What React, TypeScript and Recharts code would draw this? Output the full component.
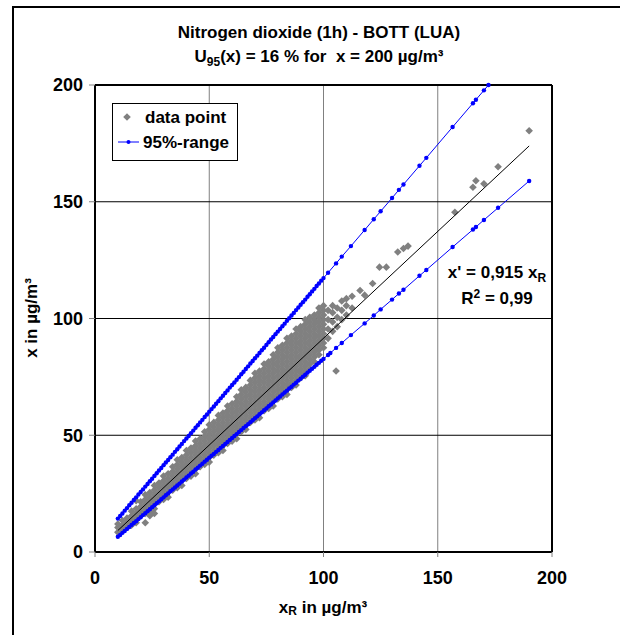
import React from 'react';
import { ScatterChart, Scatter, XAxis, YAxis, CartesianGrid, ReferenceLine, Legend, Label } from 'recharts';

const FONT = '"Liberation Sans", Arial, Helvetica, sans-serif';

const xTicks = [0, 50, 100, 150, 200];
const yTicks = [0, 50, 100, 150, 200];

// dense part of the measurement cloud: x value of each column and the y values read in it
const columnX = [
  10, 12, 14, 16, 18, 20, 22, 24, 26, 28, 30, 32, 34, 36, 38, 40, 42, 44, 46, 48, 50,
  52, 54, 56, 58, 60, 62, 64, 66, 68, 70, 72, 74, 76, 78, 80, 82, 84, 86, 88, 90,
  92, 94, 96, 98, 100, 102, 104, 106, 108, 110, 112.5,
];
const columnY = [
  [8.5, 10.5, 12],
  [9.5, 11.5, 13.5],
  [10.5, 12.5, 14.5],
  [11.5, 13.5, 15.5, 17.5],
  [12.5, 14.5, 16.5, 18.5, 22],
  [15.5, 17.5, 19.5, 21.5],
  [16.5, 18.5, 20.5, 22.5, 24.5, 12.5],
  [17.5, 19.5, 21.5, 23.5, 25.5, 15.5],
  [18.5, 20.5, 22.5, 24.5, 26.5, 28.5, 16.5],
  [21.5, 23.5, 25.5, 27.5, 29.5],
  [22.5, 24.5, 26.5, 28.5, 30.5, 32.5],
  [23.5, 25.5, 27.5, 29.5, 31.5, 33.5],
  [26.5, 28.5, 30.5, 32.5, 34.5, 36.5],
  [27.5, 29.5, 31.5, 33.5, 35.5, 37.5, 39.5],
  [28.5, 30.5, 32.5, 34.5, 36.5, 38.5, 40.5],
  [31.5, 33.5, 35.5, 37.5, 39.5, 41.5, 43.5],
  [32.5, 34.5, 36.5, 38.5, 40.5, 42.5, 44.5],
  [33.5, 35.5, 37.5, 39.5, 41.5, 43.5, 45.5, 47.5],
  [36.5, 38.5, 40.5, 42.5, 44.5, 46.5, 48.5],
  [37.5, 39.5, 41.5, 43.5, 45.5, 47.5, 49.5, 51.5],
  [38.5, 40.5, 42.5, 44.5, 46.5, 48.5, 50.5, 52.5, 54.5],
  [41.5, 43.5, 45.5, 47.5, 49.5, 51.5, 53.5, 55.5],
  [42.5, 44.5, 46.5, 48.5, 50.5, 52.5, 54.5, 56.5, 58.5],
  [43.5, 45.5, 47.5, 49.5, 51.5, 53.5, 55.5, 57.5, 59.5],
  [46.5, 48.5, 50.5, 52.5, 54.5, 56.5, 58.5, 60.5, 62.5],
  [47.5, 49.5, 51.5, 53.5, 55.5, 57.5, 59.5, 61.5, 63.5],
  [48.5, 50.5, 52.5, 54.5, 56.5, 58.5, 60.5, 62.5, 64.5, 66.5],
  [51.5, 53.5, 55.5, 57.5, 59.5, 61.5, 63.5, 65.5, 67.5, 69.5],
  [52.5, 54.5, 56.5, 58.5, 60.5, 62.5, 64.5, 66.5, 68.5, 70.5],
  [55.5, 57.5, 59.5, 61.5, 63.5, 65.5, 67.5, 69.5, 71.5, 73.5],
  [56.5, 58.5, 60.5, 62.5, 64.5, 66.5, 68.5, 70.5, 72.5, 74.5, 76.5],
  [57.5, 59.5, 61.5, 63.5, 65.5, 67.5, 69.5, 71.5, 73.5, 75.5, 77.5],
  [60.5, 62.5, 64.5, 66.5, 68.5, 70.5, 72.5, 74.5, 76.5, 78.5, 80.5],
  [61.5, 63.5, 65.5, 67.5, 69.5, 71.5, 73.5, 75.5, 77.5, 79.5, 81.5],
  [62.5, 64.5, 66.5, 68.5, 70.5, 72.5, 74.5, 76.5, 78.5, 80.5, 82.5, 84.5],
  [65.5, 67.5, 69.5, 71.5, 73.5, 75.5, 77.5, 79.5, 81.5, 83.5, 85.5, 87.5],
  [66.5, 68.5, 70.5, 72.5, 74.5, 76.5, 78.5, 80.5, 82.5, 84.5, 86.5, 88.5],
  [67.5, 69.5, 71.5, 73.5, 75.5, 77.5, 79.5, 81.5, 83.5, 85.5, 87.5, 89.5, 91.5],
  [70.5, 72.5, 74.5, 76.5, 78.5, 80.5, 82.5, 84.5, 86.5, 88.5, 90.5, 92.5],
  [71.5, 73.5, 75.5, 77.5, 79.5, 81.5, 83.5, 85.5, 87.5, 89.5, 91.5, 93.5, 95.5],
  [74.5, 76.5, 78.5, 80.5, 82.5, 84.5, 86.5, 88.5, 90.5, 92.5, 94.5, 96.5],
  [75.5, 77.5, 79.5, 81.5, 83.5, 85.5, 87.5, 89.5, 91.5, 93.5, 95.5, 97.5, 99.5],
  [78.5, 80.5, 82.5, 84.5, 86.5, 88.5, 90.5, 92.5, 94.5, 96.5, 98.5, 100.5],
  [81.5, 83.5, 85.5, 87.5, 89.5, 91.5, 93.5, 95.5, 97.5, 99.5, 101.5],
  [84.5, 86.5, 88.5, 90.5, 92.5, 94.5, 96.5, 98.5, 100.5, 102.5, 104.5],
  [87.5, 89.5, 91.5, 93.5, 95.5, 97.5, 99.5, 101.5, 103.5, 105.5],
  [91.5, 95.5, 99.5, 103.5],
  [94.5, 98.5, 102.5, 105.5],
  [96.5, 100.5, 104.5],
  [99.5, 103.5, 107.5],
  [101.5, 105.5, 108.5],
  [104.5, 109.5],
];

// isolated measurements
const sparseX = [105.5, 116, 118, 121.5, 124.5, 127.5, 132.5, 135, 137, 157.5, 165.4, 166.7, 170.2, 176.4, 190];
const sparseY = [77.5, 112, 110, 115, 122, 122, 128.5, 130, 131, 145.5, 156.2, 159, 157.7, 165, 180.4];

const upperX = [
  10, 11, 12, 13, 14, 15, 16, 17, 18, 19, 20, 21, 22, 23, 24, 25, 26, 27, 28, 29,
  30, 31, 32, 33, 34, 35, 36, 37, 38, 39, 40, 41, 42, 43, 44, 45, 46, 47, 48, 49,
  50, 51, 52, 53, 54, 55, 56, 57, 58, 59, 60, 61, 62, 63, 64, 65, 66, 67, 68, 69,
  70, 71, 72, 73, 74, 75, 76, 77, 78, 79, 80, 81, 82, 83, 84, 85, 86, 87, 88, 89,
  90, 91, 92, 93, 94, 95, 96, 97, 98, 99, 100,
  102, 105.5, 108, 112, 118, 122, 125, 130, 133, 135, 142, 145, 156.5, 165.4, 166.7, 170.2, 172.2,
];
const upperY = [
  14.3, 15.4, 16.5, 17.7, 18.8, 20.0, 21.1, 22.3, 23.4, 24.6, 25.7, 26.8, 28.0, 29.1, 30.3, 31.4, 32.6, 33.7, 34.9, 36.0,
  37.2, 38.3, 39.4, 40.6, 41.7, 42.9, 44.0, 45.2, 46.3, 47.5, 48.6, 49.7, 50.9, 52.0, 53.2, 54.3, 55.5, 56.6, 57.8, 58.9,
  60.1, 61.2, 62.3, 63.5, 64.6, 65.8, 66.9, 68.1, 69.2, 70.4, 71.5, 72.6, 73.8, 74.9, 76.1, 77.2, 78.4, 79.5, 80.7, 81.8,
  83.0, 84.1, 85.2, 86.4, 87.5, 88.7, 89.8, 91.0, 92.1, 93.3, 94.4, 95.5, 96.7, 97.8, 99.0, 100.1, 101.3, 102.4, 103.6, 104.7,
  105.9, 107.0, 108.1, 109.3, 110.4, 111.6, 112.7, 113.9, 115.0, 116.2, 117.3,
  119.6, 123.6, 126.5, 131.0, 137.9, 142.5, 145.9, 151.6, 155.1, 157.4, 165.4, 168.8, 182.0, 192.2, 193.7, 197.7, 200.0,
];

const lowerX = [
  10, 11, 12, 13, 14, 15, 16, 17, 18, 19, 20, 21, 22, 23, 24, 25, 26, 27, 28, 29,
  30, 31, 32, 33, 34, 35, 36, 37, 38, 39, 40, 41, 42, 43, 44, 45, 46, 47, 48, 49,
  50, 51, 52, 53, 54, 55, 56, 57, 58, 59, 60, 61, 62, 63, 64, 65, 66, 67, 68, 69,
  70, 71, 72, 73, 74, 75, 76, 77, 78, 79, 80, 81, 82, 83, 84, 85, 86, 87, 88, 89,
  90, 91, 92, 93, 94, 95, 96, 97, 98, 99, 100,
  102, 103, 105.5, 108, 112, 118, 122, 125, 130, 133, 135, 142, 145, 156.5, 165.4, 166.7, 170.2, 176.4, 190,
];
const lowerY = [
  6.5, 7.3, 8.2, 9.0, 9.9, 10.7, 11.6, 12.4, 13.2, 14.1, 14.9, 15.8, 16.6, 17.5, 18.3, 19.2, 20.0, 20.9, 21.7, 22.6,
  23.4, 24.3, 25.1, 26.0, 26.8, 27.6, 28.5, 29.3, 30.2, 31.0, 31.9, 32.7, 33.6, 34.4, 35.3, 36.1, 37.0, 37.8, 38.7, 39.5,
  40.4, 41.2, 42.0, 42.9, 43.7, 44.6, 45.4, 46.3, 47.1, 48.0, 48.8, 49.7, 50.5, 51.4, 52.2, 53.1, 53.9, 54.7, 55.6, 56.4,
  57.3, 58.1, 59.0, 59.8, 60.7, 61.5, 62.4, 63.2, 64.1, 64.9, 65.8, 66.6, 67.5, 68.3, 69.1, 70.0, 70.8, 71.7, 72.5, 73.4,
  74.2, 75.1, 75.9, 76.8, 77.6, 78.5, 79.3, 80.2, 81.0, 81.9, 82.7,
  84.4, 85.2, 87.4, 89.5, 92.9, 97.9, 101.3, 103.9, 108.1, 110.7, 112.3, 118.3, 120.8, 130.6, 138.1, 139.2, 142.2, 147.4, 158.9,
];

const fitX = [10, 190];
const fitY = [9.2, 173.9];

const toPairs = (xs: number[], ys: number[]) => xs.map((x, i) => ({ x, y: ys[i] }));
const points = [
  ...columnX.flatMap((x, i) => columnY[i].map((y) => ({ x, y }))),
  ...toPairs(sparseX, sparseY),
];
const upper = toPairs(upperX, upperY);
const lower = toPairs(lowerX, lowerY);
const fit = toPairs(fitX, fitY);

const Diamond = (props: any) => {
  const { cx, cy } = props;
  const r = 3.8;
  return <polygon points={`${cx},${cy - r} ${cx + r},${cy} ${cx},${cy + r} ${cx - r},${cy}`} fill="#808080" />;
};
const BlueDot = (props: any) => <circle cx={props.cx} cy={props.cy} r={2.2} fill="#0000FF" />;
const NoDot = () => <g />;

const tickStyle = { fontFamily: FONT, fontWeight: 'bold' as const, fontSize: 18, fill: '#000' };

const renderLegend = () => (
  <svg width={126} height={58} style={{ display: 'block' }}>
    <rect x={0.5} y={0.5} width={125} height={57} fill="#fff" stroke="#000" strokeWidth={1} />
    <polygon points="15,10.2 18.8,14 15,17.8 11.2,14" fill="#808080" />
    <text x={33} y={14} dominantBaseline="central" fontFamily={FONT} fontWeight="bold" fontSize={17} fill="#000">data point</text>
    <line x1={6} y1={39} x2={27} y2={39} stroke="#0000FF" strokeWidth={1} />
    <circle cx={16.5} cy={39} r={2} fill="#0000FF" />
    <text x={31} y={39} dominantBaseline="central" fontFamily={FONT} fontWeight="bold" fontSize={17} fill="#000">95%-range</text>
  </svg>
);

const textBase: React.CSSProperties = {
  position: 'absolute',
  fontFamily: FONT,
  fontWeight: 'bold',
  fontSize: 17,
  color: '#000',
  lineHeight: '20px',
  textAlign: 'center',
  whiteSpace: 'pre',
};

export default function App() {
  return (
    <div style={{ position: 'absolute', left: 0, top: 0, width: 620, height: 635, overflow: 'hidden', background: '#fff' }}>
      <div style={{ position: 'absolute', left: 12, top: 6, width: 640, height: 660, borderLeft: '2px solid #000', borderTop: '2px solid #000' }} />
      <div style={{ position: 'absolute', left: 0, top: 0 }}>
        <ScatterChart width={620} height={635} margin={{ top: 85, right: 68, bottom: 0, left: 0 }}>
          <CartesianGrid horizontal={false} vertical={true} stroke="#808080" strokeWidth={1} />
          <CartesianGrid horizontal={true} vertical={false} stroke="#000" strokeWidth={1} />
          <XAxis
            type="number"
            dataKey="x"
            domain={[0, 200]}
            ticks={xTicks}
            height={83}
            tick={tickStyle}
            tickSize={5}
            tickMargin={14}
            tickLine={{ stroke: '#808080' }}
            axisLine={{ stroke: '#000', strokeWidth: 2 }}
          >
            <Label
              content={() => (
                <text x={323} y={607} textAnchor="middle" dominantBaseline="central" fontFamily={FONT} fontWeight="bold" fontSize={17} fill="#000">
                  x<tspan dy={4} fontSize={12}>R</tspan><tspan dy={-4}> in µg/m³</tspan>
                </text>
              )}
            />
          </XAxis>
          <YAxis
            type="number"
            dataKey="y"
            domain={[0, 200]}
            ticks={yTicks}
            width={95}
            tick={tickStyle}
            tickSize={6}
            tickMargin={6}
            tickLine={{ stroke: '#808080' }}
            axisLine={{ stroke: '#000', strokeWidth: 2 }}
          >
            <Label
              content={() => (
                <text x={31} y={318} transform="rotate(-90 31 318)" textAnchor="middle" dominantBaseline="central" fontFamily={FONT} fontWeight="bold" fontSize={17} fill="#000">
                  x in µg/m³
                </text>
              )}
            />
          </YAxis>
          <ReferenceLine x={200} stroke="#000" strokeWidth={2} />
          <ReferenceLine y={200} stroke="#000" strokeWidth={2} />
          <Legend
            layout="vertical"
            align="center"
            verticalAlign="middle"
            content={renderLegend}
            wrapperStyle={{ left: 112, top: 103, width: 126, height: 58, lineHeight: 0 }}
          />
          <Scatter name="data point" data={points} shape={Diamond} isAnimationActive={false} />
          <Scatter name="fit" data={fit} line={{ stroke: '#000', strokeWidth: 1 }} shape={NoDot} legendType="none" isAnimationActive={false} />
          <Scatter name="95%-range" data={upper} line={{ stroke: '#0000FF', strokeWidth: 1 }} shape={BlueDot} isAnimationActive={false} />
          <Scatter name="95%-range low" data={lower} line={{ stroke: '#0000FF', strokeWidth: 1 }} shape={BlueDot} legendType="none" isAnimationActive={false} />
        </ScatterChart>
      </div>
      <div style={{ ...textBase, left: 119, width: 400, top: 23 }}>Nitrogen dioxide (1h) - BOTT (LUA)</div>
      <div style={{ ...textBase, left: 119, width: 400, top: 47 }}>
        U<span style={{ fontSize: 12, position: 'relative', top: 4 }}>95</span>(x) = 16 % for  x = 200 µg/m³
      </div>
      <div style={{ ...textBase, left: 417, width: 160, top: 263 }}>
        x' = 0,915 x<span style={{ fontSize: 12, position: 'relative', top: 4 }}>R</span>
      </div>
      <div style={{ ...textBase, left: 417, width: 160, top: 289 }}>
        R<span style={{ fontSize: 12, position: 'relative', top: -6 }}>2</span> = 0,99
      </div>
    </div>
  );
}
